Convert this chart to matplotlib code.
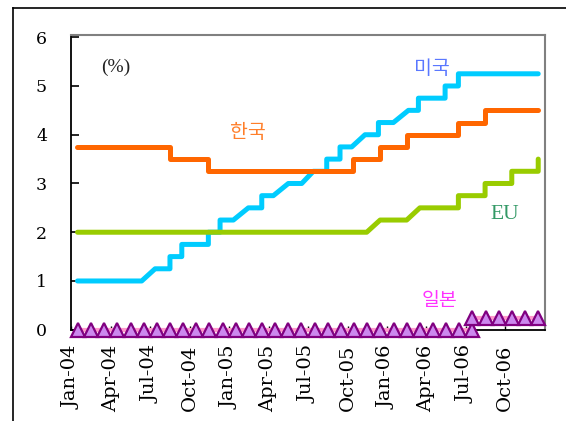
import matplotlib
matplotlib.use("Agg")
import matplotlib.pyplot as plt
from matplotlib.lines import Line2D

# ---- data (x in months since Jan-2004) ----
tick_pos = [0, 3, 6, 9, 12, 15, 18, 21, 24, 27, 30, 33]
tick_labels = ["Jan-04", "Apr-04", "Jul-04", "Oct-04", "Jan-05", "Apr-05",
               "Jul-05", "Oct-05", "Jan-06", "Apr-06", "Jul-06", "Oct-06"]

us_months = [0.47, 5.35, 6.37, 7.5, 7.5, 8.4, 8.4, 10.42, 10.42, 11.31, 11.31,
             12.32, 13.46, 14.48, 14.48, 15.36, 16.5, 17.52, 18.4, 19.42, 19.42,
             20.43, 20.43, 21.32, 22.33, 23.35, 23.35, 24.49, 25.63, 26.39, 26.39,
             28.42, 28.42, 29.43, 29.43, 35.5]
us_rates = [1.0, 1.0, 1.25, 1.25, 1.5, 1.5, 1.75, 1.75, 2.0, 2.0, 2.25,
            2.25, 2.5, 2.5, 2.75, 2.75, 3.0, 3.0, 3.25, 3.25, 3.5,
            3.5, 3.75, 3.75, 4.0, 4.0, 4.25, 4.25, 4.5, 4.5, 4.75,
            4.75, 5.0, 5.0, 5.25, 5.25]

kr_months = [0.47, 7.5, 7.5, 10.42, 10.42, 21.44, 21.44, 23.48, 23.48,
             25.5, 25.5, 29.43, 29.43, 31.46, 31.46, 35.5]
kr_rates = [3.75, 3.75, 3.5, 3.5, 3.25, 3.25, 3.5, 3.5, 3.75,
            3.75, 4.0, 4.0, 4.25, 4.25, 4.5, 4.5]

eu_months = [0.47, 22.46, 23.48, 25.5, 26.5, 29.43, 29.43, 31.46, 31.46,
             33.49, 33.49, 35.5, 35.5]
eu_rates = [2.0, 2.0, 2.25, 2.25, 2.5, 2.5, 2.75, 2.75, 3.0,
            3.0, 3.25, 3.25, 3.5]

jp_months = [0.5, 1.5, 2.5, 3.5, 4.5, 5.5, 6.5, 7.5, 8.5, 9.5, 10.5, 11.5,
             12.5, 13.5, 14.5, 15.5, 16.5, 17.5, 18.5, 19.5, 20.5, 21.5, 22.5,
             23.5, 24.5, 25.5, 26.5, 27.5, 28.5, 29.5, 30.5,
             30.5, 31.5, 32.5, 33.5, 34.5, 35.5]
jp_rates = [0, 0, 0, 0, 0, 0, 0, 0, 0, 0, 0, 0,
            0, 0, 0, 0, 0, 0, 0, 0, 0, 0, 0,
            0, 0, 0, 0, 0, 0, 0, 0,
            0.25, 0.25, 0.25, 0.25, 0.25, 0.25]

# ---- figure ----
fig = plt.figure(figsize=(5.66, 4.21), dpi=100)
ax = fig.add_axes([0.126, 0.2168, 0.837, 0.6994])

lw = 3.6
ax.plot(us_months, us_rates, color="#00ccff", lw=lw, solid_capstyle="round",
        solid_joinstyle="round", zorder=3)
ax.plot(kr_months, kr_rates, color="#ff6600", lw=lw, solid_capstyle="round",
        solid_joinstyle="round", zorder=4)
ax.plot(eu_months, eu_rates, color="#99cc00", lw=lw, solid_capstyle="round",
        solid_joinstyle="round", zorder=5)
ax.plot(jp_months, jp_rates, color="#ff99cc", lw=3, marker="^", ms=10,
        mfc="#cc88ee", mec="#800080", mew=1.6, clip_on=False, zorder=6)

ax.set_xlim(0, 36.02)
ax.set_ylim(0, 6.04)
ax.set_yticks([0, 1, 2, 3, 4, 5, 6])
ax.set_xticks(tick_pos)
ax.set_xticklabels(tick_labels, rotation=90, va="top", ha="center")

serif = ["DejaVu Serif"]
for lab in ax.get_yticklabels():
    lab.set_family(serif)
    lab.set_fontsize(12.5)
for lab in ax.get_xticklabels():
    lab.set_family(serif)
    lab.set_fontsize(14)

ax.tick_params(axis="y", direction="in", length=6, width=1.2, pad=17.5, colors="black")
ax.tick_params(axis="x", direction="in", length=3, width=1.0, pad=11, colors="black")

for s in ["left", "bottom"]:
    ax.spines[s].set_color("black")
    ax.spines[s].set_linewidth(1.3)
for s in ["top", "right"]:
    ax.spines[s].set_color("#808080")
    ax.spines[s].set_linewidth(1.5)

cjk = ["Noto Sans CJK KR", "DejaVu Sans"]
ax.text(13.44, 4.05, "한국", color="#ff7f2a", fontsize=14, family=cjk,
        ha="center", va="center")
ax.text(27.43, 5.36, "미국", color="#5a78ff", fontsize=14, family=cjk,
        ha="center", va="center")
ax.text(28.03, 0.60, "일본", color="#ff33ff", fontsize=14, family=cjk,
        ha="center", va="center")
ax.text(32.95, 2.36, "EU", color="#339966", fontsize=15.5, family=["Liberation Serif"],
        ha="center", va="center")
ax.text(3.4, 5.39, "(%)", color="#222222", fontsize=14, family=["Liberation Serif"],
        ha="center", va="center")

# outer frame (left and top edges visible)
fig.add_artist(Line2D([12.7 / 566, 12.7 / 566], [0, 1 - 7.7 / 421],
                      transform=fig.transFigure, color="black", lw=1.2))
fig.add_artist(Line2D([12.7 / 566, 1], [1 - 7.7 / 421, 1 - 7.7 / 421],
                      transform=fig.transFigure, color="black", lw=1.2))

fig.savefig("out.png", dpi=100)
